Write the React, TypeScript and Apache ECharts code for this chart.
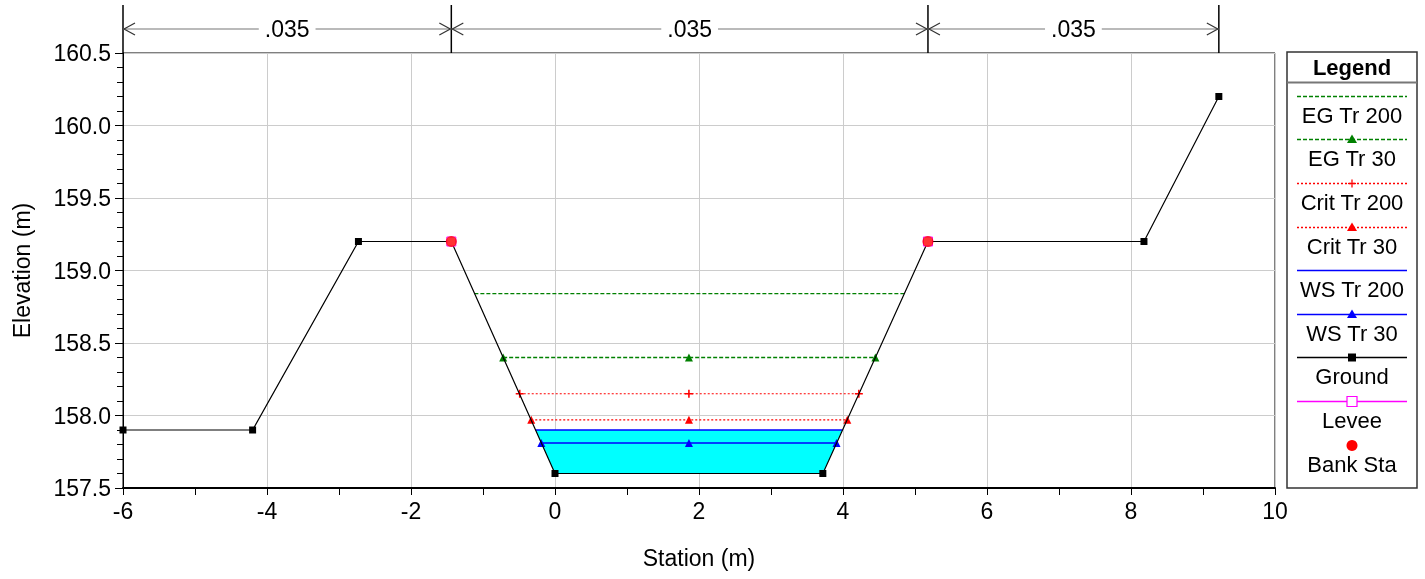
import React, { useEffect, useRef } from "react";
import * as echarts from "echarts";

// ---- Data (station m, elevation m) ----
const ground: number[][] = [
  [-6, 157.9], [-4.2, 157.9], [-2.73, 159.2], [-1.44, 159.2], [0, 157.6],
  [3.72, 157.6], [5.18, 159.2], [8.18, 159.2], [9.22, 160.2],
];
const levee: number[][] = [[-1.44, 159.2], [5.18, 159.2]];
const bankSta: number[][] = [[-1.44, 159.2], [5.18, 159.2]];
const egTr200: number[][] = [[-1.12, 158.84], [4.85, 158.84]];
const egTr30: number[][] = [[-0.72, 158.4], [1.86, 158.4], [4.45, 158.4]];
const critTr200: number[][] = [[-0.49, 158.15], [1.86, 158.15], [4.22, 158.15]];
const critTr30: number[][] = [[-0.33, 157.97], [1.86, 157.97], [4.06, 157.97]];
const wsTr200: number[][] = [[-0.27, 157.9], [3.99, 157.9]];
const wsTr30: number[][] = [[-0.19, 157.81], [1.86, 157.81], [3.91, 157.81]];
// water area under WS Tr 200 down to the channel bed
const wsFill: number[][] = [[-0.27, 157.9], [0, 157.6], [3.72, 157.6], [3.99, 157.9]];

// Manning's n reaches along the top
const nBreaks: number[] = [-6, -1.44, 5.18, 9.22];
const nValues: string[] = [".035", ".035", ".035"];

const xTicks = { min: -6, max: 10, interval: 2 };
const yTicks = { min: 157.5, max: 160.5, interval: 0.5 };

const FONT = "'Liberation Sans', Arial, sans-serif";
const GREEN = "#008000";
const RED = "#ff0000";
const BLUE = "#0000ff";
const MAGENTA = "#ff00ff";
const PLUS = "path://M4,0H6V4H10V6H6V10H4V6H0V4H4Z";

type LegendItem = { name: string; color: string; dash: number[] | null; line: boolean; marker: string };
const legendItems: LegendItem[] = [
  { name: "EG Tr 200", color: GREEN, dash: [4, 2], line: true, marker: "none" },
  { name: "EG Tr 30", color: GREEN, dash: [4, 2], line: true, marker: "triangle" },
  { name: "Crit Tr 200", color: RED, dash: [2, 2], line: true, marker: "plus" },
  { name: "Crit Tr 30", color: RED, dash: [2, 2], line: true, marker: "triangle" },
  { name: "WS Tr 200", color: BLUE, dash: null, line: true, marker: "none" },
  { name: "WS Tr 30", color: BLUE, dash: null, line: true, marker: "triangle" },
  { name: "Ground", color: "#000000", dash: null, line: true, marker: "square" },
  { name: "Levee", color: MAGENTA, dash: null, line: true, marker: "openSquare" },
  { name: "Bank Sta", color: RED, dash: null, line: false, marker: "circle" },
];

export default function App() {
  const ref = useRef<HTMLDivElement>(null);
  useEffect(() => {
    if (!ref.current) return;
    const chart = echarts.init(ref.current, null, { renderer: "svg" });

    const lineSeries = (name: string, data: number[][], color: string, dash: any, symbol: string, size: number, width = 1, z = 3) => ({
      name, type: "line", data, z,
      symbol, symbolSize: size, showSymbol: symbol !== "none",
      lineStyle: { color, width, type: dash || "solid" },
      itemStyle: { color },
      emphasis: { disabled: true },
    });

    chart.setOption({
      animation: false,
      grid: { left: 123, top: 53, width: 1152, height: 435, show: true, borderColor: "#000", borderWidth: 1, backgroundColor: "transparent" },
      xAxis: {
        type: "value", min: xTicks.min, max: xTicks.max, interval: xTicks.interval,
        name: "Station (m)", nameLocation: "middle", nameGap: 58,
        nameTextStyle: { fontFamily: FONT, fontSize: 23, color: "#000" },
        axisLine: { show: true, onZero: false, lineStyle: { color: "#000", width: 2 } },
        axisTick: { show: true, length: 7, lineStyle: { color: "#000" } },
        minorTick: { show: true, splitNumber: 2, length: 7, lineStyle: { color: "#000" } },
        axisLabel: { fontFamily: FONT, fontSize: 23, color: "#000", margin: 11 },
        splitLine: { show: true, lineStyle: { color: "#cccccc", width: 1 } },
      },
      yAxis: {
        type: "value", min: yTicks.min, max: yTicks.max, interval: yTicks.interval,
        name: "Elevation (m)", nameLocation: "middle", nameGap: 90,
        nameTextStyle: { fontFamily: FONT, fontSize: 23, color: "#000" },
        axisLine: { show: true, onZero: false, lineStyle: { color: "#000", width: 1 } },
        axisTick: { show: true, length: 8, lineStyle: { color: "#000" } },
        minorTick: { show: true, splitNumber: 5, length: 6, lineStyle: { color: "#000" } },
        axisLabel: { fontFamily: FONT, fontSize: 23, color: "#000", margin: 12, formatter: (v: number) => v.toFixed(1) },
        splitLine: { show: true, lineStyle: { color: "#cccccc", width: 1 } },
      },
      series: [
        {
          name: "WS fill", type: "custom", data: wsFill, z: 1, silent: true,
          encode: { x: 0, y: 1 },
          renderItem: (params: any, api: any) => {
            if (params.dataIndex !== 0) return null;
            const pts = wsFill.map((p) => api.coord(p));
            return { type: "polygon", shape: { points: pts }, style: { fill: "#00ffff", stroke: "none" } };
          },
        },
        lineSeries("EG Tr 200", egTr200, GREEN, [4, 2], "none", 0, 1.3),
        lineSeries("EG Tr 30", egTr30, GREEN, [4, 2], "triangle", 8, 1.3),
        lineSeries("Crit Tr 200", critTr200, RED, [2, 2], PLUS, 8, 1.2),
        lineSeries("Crit Tr 30", critTr30, RED, [2, 2], "triangle", 8, 1.2),
        lineSeries("WS Tr 200", wsTr200, BLUE, null, "none", 0, 1.5),
        lineSeries("WS Tr 30", wsTr30, BLUE, null, "triangle", 8, 1.5),
        lineSeries("Ground", ground, "#000000", null, "rect", 7, 1.2, 4),
        {
          name: "Levee", type: "line", data: levee, z: 5, symbol: "rect", symbolSize: 9,
          lineStyle: { opacity: 0 }, itemStyle: { color: "#ffffff", borderColor: MAGENTA, borderWidth: 1 },
        },
        {
          name: "Bank Sta", type: "scatter", data: bankSta, z: 6, symbol: "circle", symbolSize: 11,
          itemStyle: { color: RED },
        },
      ],
    });

    // Overlays: Manning's n reach dimensions and the legend box
    const g: any[] = [];
    const px = nBreaks.map((v) => chart.convertToPixel({ xAxisIndex: 0 }, v) as number);
    const top = 53;
    const yArrow = 29;
    px.forEach((x) => {
      g.push({ type: "line", shape: { x1: x, y1: 5, x2: x, y2: top }, style: { stroke: "#000", lineWidth: 1.5 }, z: 100 });
    });
    nValues.forEach((label, i) => {
      const a = px[i], b = px[i + 1];
      g.push({ type: "line", shape: { x1: a, y1: yArrow, x2: b, y2: yArrow }, style: { stroke: "#777", lineWidth: 1.2 }, z: 100 });
      g.push({ type: "polyline", shape: { points: [[a + 12, yArrow - 6], [a + 1, yArrow], [a + 12, yArrow + 6]] }, style: { stroke: "#333", lineWidth: 1.2, fill: "none" }, z: 101 });
      g.push({ type: "polyline", shape: { points: [[b - 12, yArrow - 6], [b - 1, yArrow], [b - 12, yArrow + 6]] }, style: { stroke: "#333", lineWidth: 1.2, fill: "none" }, z: 101 });
      g.push({
        type: "text", x: (a + b) / 2, y: yArrow, z: 102,
        style: { text: label, fill: "#000", font: `23px ${FONT}`, align: "center", verticalAlign: "middle", backgroundColor: "#fff", padding: [0, 6] },
      });
    });

    const LX = 1287, LY = 52, LW = 130, LH = 436;
    const cx = LX + LW / 2;
    g.push({ type: "rect", shape: { x: LX, y: LY, width: LW, height: LH }, style: { fill: "#fff", stroke: "#333", lineWidth: 1.5 }, z: 100 });
    g.push({ type: "text", x: cx, y: 67, z: 101, style: { text: "Legend", fill: "#000", font: `bold 22px ${FONT}`, align: "center", verticalAlign: "middle" } });
    g.push({ type: "line", shape: { x1: LX, y1: 82.5, x2: LX + LW, y2: 82.5 }, style: { stroke: "#777", lineWidth: 2 }, z: 101 });
    legendItems.forEach((it, i) => {
      const y = Math.round(95.7 + i * 43.6) + 0.5;
      if (it.line) {
        g.push({ type: "line", shape: { x1: 1297, y1: y, x2: 1407, y2: y }, style: { stroke: it.color, lineWidth: 1.3, lineDash: it.dash || undefined }, z: 101 });
      }
      if (it.marker === "triangle") {
        g.push({ type: "polygon", shape: { points: [[cx, y - 5], [cx - 5, y + 3.5], [cx + 5, y + 3.5]] }, style: { fill: it.color }, z: 102 });
      } else if (it.marker === "plus") {
        g.push({ type: "line", shape: { x1: cx - 4, y1: y, x2: cx + 4, y2: y }, style: { stroke: it.color, lineWidth: 1.3 }, z: 102 });
        g.push({ type: "line", shape: { x1: cx, y1: y - 4, x2: cx, y2: y + 4 }, style: { stroke: it.color, lineWidth: 1.3 }, z: 102 });
      } else if (it.marker === "square") {
        g.push({ type: "rect", shape: { x: cx - 4, y: y - 4, width: 8, height: 8 }, style: { fill: it.color }, z: 102 });
      } else if (it.marker === "openSquare") {
        g.push({ type: "rect", shape: { x: cx - 5, y: y - 5, width: 10, height: 10 }, style: { fill: "#fff", stroke: it.color, lineWidth: 1.2 }, z: 102 });
      } else if (it.marker === "circle") {
        g.push({ type: "circle", shape: { cx, cy: y, r: 5.5 }, style: { fill: it.color }, z: 102 });
      }
      g.push({ type: "text", x: cx, y: y + 19, z: 101, style: { text: it.name, fill: "#000", font: `22px ${FONT}`, align: "center", verticalAlign: "middle" } });
    });

    chart.setOption({ graphic: g });

    return () => chart.dispose();
  }, []);

  return <div ref={ref} style={{ position: "fixed", left: 0, top: 0, width: 1425, height: 579 }} />;
}
